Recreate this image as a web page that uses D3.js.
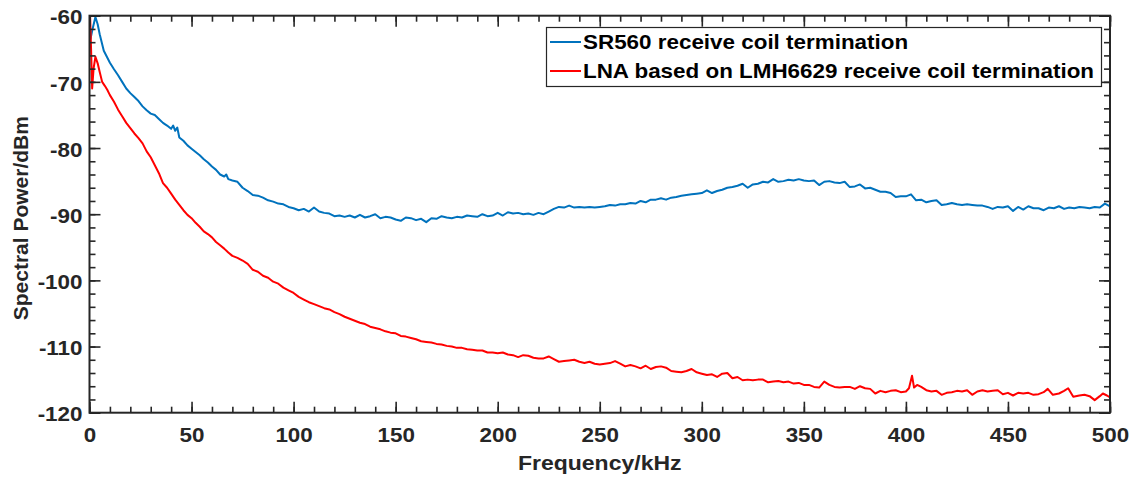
<!DOCTYPE html>
<html>
<head>
<meta charset="utf-8">
<script src="https://cdn.jsdelivr.net/npm/d3@7"></script>
<style>
  html, body { margin: 0; padding: 0; background: #fff; }
  svg { display: block; }
  text { font-family: "Liberation Sans", Arial, sans-serif; font-weight: bold; }
</style>
</head>
<body>
<div id="chart"></div>
<script>
// ---- data ----
const seriesNames = ["SR560 receive coil termination", "LNA based on LMH6629 receive coil termination"];
const xTicks = [0, 50, 100, 150, 200, 250, 300, 350, 400, 450, 500];
const yTicks = [-120, -110, -100, -90, -80, -70, -60];

const sr560 = [
[0,-62.5],[0.5,-63.5],[1.5,-62],[2.9,-60.2],[4,-61.3],[5,-62.8],[7,-65.3],[8.5,-66.2],[10,-67.1],[12,-68.1],
[14,-69.0],[16,-70.0],[18,-71.0],[20,-71.7],[22,-72.3],[24,-72.9],[26,-73.7],[28,-74.3],[30,-74.8],[32,-75.0],
[34,-75.6],[36,-76.2],[38,-76.6],[40,-77.1],[41,-76.6],[42,-77.4],[43,-76.9],[44,-78.4],[46,-78.9],[48,-79.6],[50,-80.1],
[52,-80.6],[54,-81.1],[56,-81.7],[58,-82.2],[60,-82.8],[62,-83.3],[64,-84.0],[66,-84.3],[67,-84.0],[68,-84.7],[70,-84.9],
[72.5,-85.1],[75,-86.0],[77.5,-86.5],[80,-87.1],[82.5,-87.2],[85,-87.5],[87.5,-87.9],[90,-88.1],[92.5,-88.4],[95,-88.5],
[97.5,-88.9],[100,-89.1],[102.5,-89.4],[105,-89.2],[107.5,-89.6],[110,-89.0],[112.5,-89.6],[115,-89.8],[117.5,-89.9],
[120,-90.3],[122.5,-90.2],[125,-90.4],[127.5,-90.2],[130,-90.5],[132.5,-90.1],[135,-90.5],[137.5,-90.3],[140,-90.0],
[142.5,-90.6],[145,-90.4],[147.5,-90.5],[150,-90.8],[152.5,-91.0],[155,-90.5],[157.5,-90.6],[160,-90.9],[162.5,-90.7],
[165,-91.2],[167.5,-90.6],[170,-90.7],[172.5,-90.3],[175,-90.5],[177.5,-90.6],[180,-90.4],[182.5,-90.5],[185,-90.2],
[187.5,-90.3],[190,-90.4],[192.5,-90.0],[195,-90.3],[197.5,-90.2],[200,-89.8],[202.5,-90.2],[205,-89.7],[207.5,-89.9],
[210,-89.8],[212.5,-90.0],[215,-89.9],[217.5,-90.1],[220,-89.8],[222.5,-90.0],[225,-89.6],[227.5,-89.2],[230,-88.9],
[232.5,-89.0],[235,-88.7],[237.5,-89.0],[240,-88.9],[242.5,-89.0],[245,-88.9],[247.5,-89.0],[250,-88.9],[252.5,-88.8],
[255,-88.6],[257.5,-88.7],[260,-88.5],[262.5,-88.5],[265,-88.3],[267.5,-88.4],[270,-88.0],[272.5,-88.2],[275,-87.8],
[277.5,-87.8],[280,-87.6],[282.5,-87.8],[285,-87.5],[287.5,-87.4],[290,-87.2],[292.5,-87.1],[295,-87.0],[297.5,-86.9],
[300,-86.8],[302.5,-86.4],[305,-86.8],[307.5,-86.5],[310,-86.3],[312.5,-86.0],[315,-85.9],[317.5,-85.7],[320,-85.4],
[322.5,-86.0],[325,-85.5],[327.5,-85.4],[330,-85.1],[332.5,-85.2],[335,-84.7],[337.5,-85.1],[340,-85.0],[342.5,-84.8],
[345,-84.9],[347.5,-84.7],[350,-84.9],[352.5,-85.0],[355,-84.9],[357.5,-85.6],[360,-85.1],[362.5,-85.0],[365,-85.2],
[367.5,-85.3],[370,-85.1],[372.5,-85.9],[375,-85.8],[377.5,-85.5],[380,-86.1],[382.5,-86.0],[385,-86.3],[387.5,-86.6],
[390,-86.6],[392.5,-86.8],[395,-87.4],[397.5,-87.3],[400,-87.3],[402.5,-87.0],[405,-87.9],[407.5,-87.8],[410,-88.2],
[412.5,-88.0],[415,-87.9],[417.5,-88.6],[420,-88.5],[422.5,-88.3],[425,-88.5],[427.5,-88.6],[430,-88.5],[432.5,-88.6],
[435,-88.7],[437.5,-88.7],[440,-88.9],[442.5,-89.2],[445,-88.9],[447.5,-89.0],[450,-88.8],[452.5,-89.5],[455,-88.9],
[457.5,-89.3],[460,-88.8],[462.5,-89.1],[465,-89.1],[467.5,-89.4],[470,-89.0],[472.5,-89.1],[475,-88.8],[477.5,-89.2],
[480,-89.0],[482.5,-89.1],[485,-88.9],[487.5,-89.0],[490,-89.1],[492.5,-88.9],[495,-89.0],[497.5,-88.4],[500,-88.8]
];

const lmh6629 = [
[0,-57],[0.5,-62],[1.3,-71.0],[2,-68],[2.9,-66.2],[4,-67.2],[5,-68.5],[6.2,-70.0],[7.5,-70.6],[8.7,-71.2],[10,-72.0],
[12,-73.0],[14,-74.2],[16,-75.2],[18,-76.2],[20,-77.0],[22,-77.8],[24,-78.5],[26,-79.3],[28,-80.5],[30,-81.4],
[32,-82.6],[34,-83.8],[36,-85.3],[38,-86.0],[40,-86.9],[42,-87.8],[44,-88.6],[46,-89.4],[48,-90.1],[50,-90.6],
[52,-91.3],[54,-91.9],[56,-92.6],[58,-93.0],[60,-93.5],[62,-94.2],[64,-94.7],[66,-95.2],[68,-95.8],[70,-96.3],
[72.5,-96.6],[75,-97.0],[77.5,-97.5],[80,-98.4],[82.5,-98.7],[85,-99.3],[87.5,-99.6],[90,-100.2],[92.5,-100.5],
[95,-101.1],[97.5,-101.5],[100,-101.9],[102.5,-102.5],[105,-102.9],[107.5,-103.3],[110,-103.6],[112.5,-103.9],
[115,-104.2],[117.5,-104.4],[120,-104.8],[122.5,-105.1],[125,-105.5],[127.5,-105.8],[130,-106.1],[132.5,-106.4],
[135,-106.6],[137.5,-107.0],[140,-107.2],[142.5,-107.4],[145,-107.7],[147.5,-107.9],[150,-108.0],[152.5,-108.4],
[155,-108.5],[157.5,-108.7],[160,-108.9],[162.5,-109.2],[165,-109.3],[167.5,-109.4],[170,-109.6],[172.5,-109.7],
[175,-109.9],[177.5,-110.0],[180,-110.2],[182.5,-110.2],[185,-110.4],[187.5,-110.5],[190,-110.6],[192.5,-110.6],
[195,-110.9],[197.5,-110.9],[200,-111.0],[202.5,-110.9],[205,-111.2],[207.5,-111.3],[210,-111.6],[212.5,-111.3],
[215,-111.4],[217.5,-111.7],[220,-111.8],[222.5,-111.8],[225,-111.5],[227.5,-111.9],[230,-112.3],[232.5,-112.2],
[235,-112.1],[237.5,-112.0],[240,-112.3],[242.5,-112.5],[245,-112.3],[247.5,-112.6],[250,-112.7],[252.5,-112.6],
[255,-112.5],[257.5,-112.2],[260,-112.6],[262.5,-113.0],[265,-112.8],[267.5,-113.0],[270,-113.3],[272.5,-112.9],
[275,-113.4],[277.5,-113.1],[280,-113.0],[282.5,-113.2],[285,-113.7],[287.5,-113.8],[290,-113.9],[292.5,-113.7],
[295,-113.4],[297.5,-113.9],[300,-114.1],[302.5,-114.3],[305,-114.2],[307.5,-114.6],[310,-114.1],[312.5,-114.0],
[315,-114.8],[317.5,-114.6],[320,-115.1],[322.5,-115.0],[325,-115.1],[327.5,-115.0],[330,-115.0],[332.5,-115.4],
[335,-115.3],[337.5,-115.2],[340,-115.4],[342.5,-115.3],[345,-115.6],[347.5,-115.5],[350,-115.8],[352.5,-115.8],
[355,-116.1],[357.5,-116.2],[360,-115.3],[362.5,-115.8],[365,-116.1],[367.5,-116.2],[370,-116.1],[372.5,-116.1],
[375,-116.4],[377.5,-116.0],[380,-116.3],[382.5,-116.4],[385,-117.1],[387.5,-116.7],[390,-116.9],[392.5,-116.7],
[395,-116.6],[397.5,-116.9],[400,-116.8],[401.5,-116.3],[403,-114.4],[404,-116.2],[405.5,-115.8],[407.5,-116.1],
[410,-116.6],[412.5,-116.8],[415,-116.7],[417.5,-117.3],[420,-117.0],[422.5,-116.9],[425,-116.7],[427.5,-116.8],
[430,-116.6],[432.5,-117.3],[435,-116.8],[437.5,-116.6],[440,-116.8],[442.5,-116.7],[445,-116.6],[447.5,-117.2],
[450,-117.0],[452.5,-117.4],[455,-117.0],[457.5,-117.1],[460,-117.0],[462.5,-117.3],[465,-117.2],[467.5,-116.9],
[469.5,-116.4],[472,-117.3],[475,-117.1],[477.5,-116.7],[479.5,-116.3],[482,-117.6],[485,-117.4],[487.5,-117.3],
[490,-117.5],[492.5,-118.1],[495,-117.5],[496.5,-117.1],[498.5,-117.4],[500,-117.7]
];

const seriesColors = ["#0072BD", "#FF0000"];

// ---- layout ----
const W = 1136, H = 478;
const plot = { left: 89.5, right: 1110, top: 15.7, bottom: 412.7 };
const SX = 1.15; // horizontal text stretch seen in the reference
const axisColor = "#262626";

const svg = d3.select("#chart").append("svg").attr("width", W).attr("height", H);

const x = d3.scaleLinear().domain([0, 500]).range([plot.left, plot.right]);
const y = d3.scaleLinear().domain([-120, -60]).range([plot.bottom, plot.top]);

svg.append("defs").append("clipPath").attr("id", "clip")
  .append("rect").attr("x", plot.left).attr("y", plot.top)
  .attr("width", plot.right - plot.left).attr("height", plot.bottom - plot.top);

// data lines
const line = d3.line().x(d => x(d[0])).y(d => y(d[1]));
const g = svg.append("g").attr("clip-path", "url(#clip)");
[sr560, lmh6629].forEach((s, i) => {
  g.append("path").datum(s).attr("d", line)
    .attr("fill", "none").attr("stroke", seriesColors[i])
    .attr("stroke-width", 2).attr("stroke-linejoin", "round");
});

// axes
const xMinor = d3.range(0, 501, 10);
const yMinor = d3.range(-120, -59, 2);
const plainFormat = d => String(d); // ASCII hyphen-minus like the reference
function styleAxis(sel) {
  sel.select(".domain").remove();
  sel.selectAll("line").attr("stroke", axisColor).attr("stroke-width", 1.6);
  sel.selectAll("text").attr("fill", axisColor).style("font-size", "19.5px");
}
function addAxis(gen, transform, values, size, labels) {
  const a = svg.append("g").attr("transform", transform)
    .call(gen.tickValues(values).tickSize(-size).tickPadding(labels ? (labels.pad) : 0)
      .tickFormat(labels ? plainFormat : ""));
  styleAxis(a);
  return a;
}
// bottom
addAxis(d3.axisBottom(x), `translate(0,${plot.bottom})`, xMinor, 6, null);
const xa = addAxis(d3.axisBottom(x), `translate(0,${plot.bottom})`, xTicks, 11, { pad: 15 });
xa.selectAll("text").attr("transform", `scale(${SX},1)`);
// top
addAxis(d3.axisTop(x), `translate(0,${plot.top})`, xMinor, 6, null);
addAxis(d3.axisTop(x), `translate(0,${plot.top})`, xTicks, 11, null);
// left
addAxis(d3.axisLeft(y), `translate(${plot.left},0)`, yMinor, 6, null);
const ya = addAxis(d3.axisLeft(y), `translate(${plot.left},0)`, yTicks, 11, { pad: 7 });
ya.selectAll("text").each(function() {
  const t = d3.select(this);
  const tx = +t.attr("x");
  t.attr("x", 0).attr("dy", "0.42em").attr("transform", `translate(${tx},0) scale(${SX},1)`);
});
// right
addAxis(d3.axisRight(y), `translate(${plot.right},0)`, yMinor, 6, null);
addAxis(d3.axisRight(y), `translate(${plot.right},0)`, yTicks, 11, null);

// frame
svg.append("rect").attr("x", plot.left).attr("y", plot.top)
  .attr("width", plot.right - plot.left).attr("height", plot.bottom - plot.top)
  .attr("fill", "none").attr("stroke", axisColor).attr("stroke-width", 2);

// axis titles
svg.append("text").attr("transform", `translate(${(plot.left + plot.right) / 2},470) scale(${SX},1)`)
  .attr("text-anchor", "middle").attr("fill", axisColor).style("font-size", "20px")
  .text("Frequency/kHz");
svg.append("text").attr("transform", `translate(28,${(plot.top + plot.bottom) / 2 + 4}) rotate(-90)`)
  .attr("text-anchor", "middle").attr("fill", axisColor).style("font-size", "21px")
  .text("Spectral Power/dBm");

// legend
const leg = svg.append("g");
leg.append("rect").attr("x", 546.5).attr("y", 27.5).attr("width", 555).attr("height", 59)
  .attr("fill", "#fff").attr("stroke", axisColor).attr("stroke-width", 1.2);
seriesNames.forEach((name, i) => {
  const cy = 42 + i * 29;
  leg.append("line").attr("x1", 550).attr("x2", 581).attr("y1", cy).attr("y2", cy)
    .attr("stroke", seriesColors[i]).attr("stroke-width", 2);
  leg.append("text").attr("transform", `translate(583,${cy + 7}) scale(${SX},1)`)
    .attr("fill", "#000").style("font-size", "19.5px").text(name);
});
</script>
</body>
</html>
